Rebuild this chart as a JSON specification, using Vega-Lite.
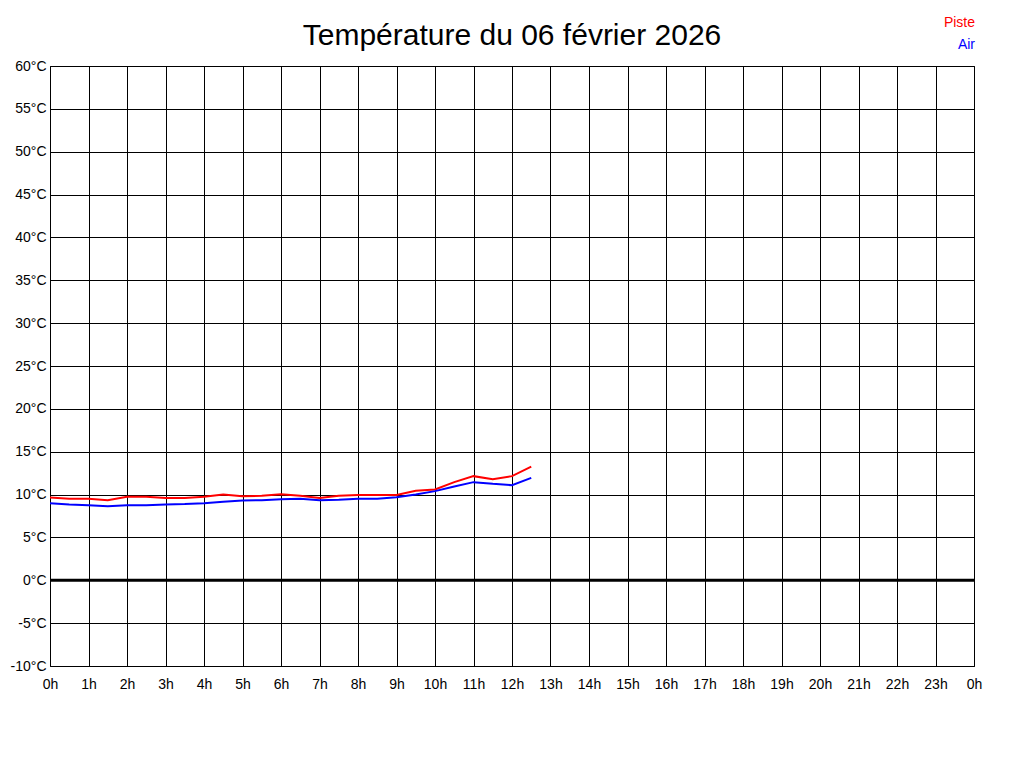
{
  "$schema": "https://vega.github.io/schema/vega-lite/v6.json",
  "autosize": "none",
  "width": 924,
  "height": 600,
  "padding": {"left": 50, "top": 66, "right": 50, "bottom": 102},
  "background": "white",
  "title": {
    "text": "Température du 06 février 2026",
    "font": "Liberation Sans",
    "fontSize": 30,
    "fontWeight": "normal",
    "color": "black",
    "anchor": "middle",
    "offset": -35
  },
  "config": {
    "view": {"stroke": "black", "strokeWidth": 1},
    "axis": {
      "labelFont": "Liberation Sans",
      "labelFontSize": 14,
      "labelColor": "black",
      "grid": true,
      "gridColor": "black",
      "gridOpacity": 1,
      "gridWidth": 1,
      "domain": false,
      "ticks": false,
      "tickSize": 0,
      "title": null,
      "labelFlush": false,
      "labelOverlap": false,
      "labelBound": false
    }
  },
  "data": {
    "values": [
      {"h": 0, "serie": "Piste", "t": 9.65},
      {"h": 0.5, "serie": "Piste", "t": 9.5},
      {"h": 1, "serie": "Piste", "t": 9.5},
      {"h": 1.5, "serie": "Piste", "t": 9.35},
      {"h": 2, "serie": "Piste", "t": 9.75},
      {"h": 2.5, "serie": "Piste", "t": 9.75},
      {"h": 3, "serie": "Piste", "t": 9.6},
      {"h": 3.5, "serie": "Piste", "t": 9.6},
      {"h": 4, "serie": "Piste", "t": 9.75},
      {"h": 4.5, "serie": "Piste", "t": 10.0},
      {"h": 5, "serie": "Piste", "t": 9.8},
      {"h": 5.5, "serie": "Piste", "t": 9.85},
      {"h": 6, "serie": "Piste", "t": 10.05},
      {"h": 6.5, "serie": "Piste", "t": 9.85},
      {"h": 7, "serie": "Piste", "t": 9.6},
      {"h": 7.5, "serie": "Piste", "t": 9.85},
      {"h": 8, "serie": "Piste", "t": 9.95},
      {"h": 8.5, "serie": "Piste", "t": 9.95},
      {"h": 9, "serie": "Piste", "t": 9.95},
      {"h": 9.5, "serie": "Piste", "t": 10.45},
      {"h": 10, "serie": "Piste", "t": 10.6},
      {"h": 10.5, "serie": "Piste", "t": 11.45},
      {"h": 11, "serie": "Piste", "t": 12.15},
      {"h": 11.5, "serie": "Piste", "t": 11.8},
      {"h": 12, "serie": "Piste", "t": 12.15},
      {"h": 12.5, "serie": "Piste", "t": 13.25},
      {"h": 0, "serie": "Air", "t": 9.0},
      {"h": 0.5, "serie": "Air", "t": 8.85},
      {"h": 1, "serie": "Air", "t": 8.75},
      {"h": 1.5, "serie": "Air", "t": 8.65},
      {"h": 2, "serie": "Air", "t": 8.75},
      {"h": 2.5, "serie": "Air", "t": 8.75},
      {"h": 3, "serie": "Air", "t": 8.85},
      {"h": 3.5, "serie": "Air", "t": 8.9},
      {"h": 4, "serie": "Air", "t": 9.0},
      {"h": 4.5, "serie": "Air", "t": 9.15},
      {"h": 5, "serie": "Air", "t": 9.3},
      {"h": 5.5, "serie": "Air", "t": 9.35},
      {"h": 6, "serie": "Air", "t": 9.45},
      {"h": 6.5, "serie": "Air", "t": 9.5},
      {"h": 7, "serie": "Air", "t": 9.35},
      {"h": 7.5, "serie": "Air", "t": 9.4},
      {"h": 8, "serie": "Air", "t": 9.5},
      {"h": 8.5, "serie": "Air", "t": 9.5},
      {"h": 9, "serie": "Air", "t": 9.7},
      {"h": 9.5, "serie": "Air", "t": 10.0},
      {"h": 10, "serie": "Air", "t": 10.4},
      {"h": 10.5, "serie": "Air", "t": 10.95},
      {"h": 11, "serie": "Air", "t": 11.45},
      {"h": 11.5, "serie": "Air", "t": 11.25},
      {"h": 12, "serie": "Air", "t": 11.1},
      {"h": 12.5, "serie": "Air", "t": 11.95}
    ]
  },
  "layer": [
    {
      "data": {"values": [{"zero": 0}]},
      "mark": {"type": "rule", "color": "black", "strokeWidth": 3},
      "encoding": {
        "y": {"field": "zero", "type": "quantitative", "scale": {"domain": [-10, 60], "nice": false, "zero": false}}
      }
    },
    {
      "mark": {"type": "line", "strokeWidth": 2, "interpolate": "linear"},
      "encoding": {
        "x": {
          "field": "h",
          "type": "quantitative",
          "scale": {"domain": [0, 24], "nice": false, "zero": false},
          "axis": {
            "values": [0,1,2,3,4,5,6,7,8,9,10,11,12,13,14,15,16,17,18,19,20,21,22,23,24],
            "labelExpr": "(datum.value % 24) + 'h'",
            "labelPadding": 11
          }
        },
        "y": {
          "field": "t",
          "type": "quantitative",
          "scale": {"domain": [-10, 60], "nice": false, "zero": false},
          "axis": {
            "values": [-10,-5,0,5,10,15,20,25,30,35,40,45,50,55,60],
            "labelExpr": "datum.value + '°C'",
            "labelPadding": 4
          }
        },
        "color": {
          "field": "serie",
          "type": "nominal",
          "scale": {"domain": ["Piste", "Air"], "range": ["#ff0000", "#0000ff"]},
          "legend": {
            "title": null,
            "orient": "none",
            "legendX": 911,
            "legendY": -50,
            "direction": "vertical",
            "symbolSize": 0,
            "symbolStrokeWidth": 0,
            "symbolOpacity": 0,
            "symbolOffset": 0,
            "labelOffset": 0,
            "labelAlign": "right",
            "labelFont": "Liberation Sans",
            "labelFontSize": 14,
            "labelColor": {"expr": "datum.value == 'Piste' ? '#ff0000' : '#0000ff'"},
            "rowPadding": 8,
            "padding": 0
          }
        }
      }
    }
  ]
}
